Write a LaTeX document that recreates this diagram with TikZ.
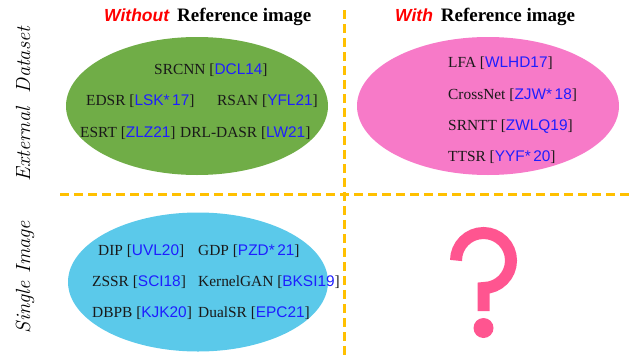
\documentclass[tikz,border=0pt]{standalone}
\usepackage{fontspec}
\newfontfamily\tnr{Liberation Serif}
\newfontfamily\arialf{Liberation Sans}
\usetikzlibrary{shapes.geometric}
\definecolor{dgreen}{HTML}{70AD47}
\definecolor{dpink}{HTML}{F77AC8}
\definecolor{dblue}{HTML}{5BC9EA}
\definecolor{dorange}{HTML}{FFC000}
\definecolor{qpink}{HTML}{FF5590}
\definecolor{citeblue}{HTML}{1E1EFF}
\newcommand\rf[1]{[{\arialf\color{citeblue}#1}]}
\tikzset{
  entry/.style={anchor=west, inner sep=0pt, text=black!90, font=\tnr\fontsize{15.4}{18}\selectfont},
  blob/.style={ellipse, draw=none, minimum width=262pt, minimum height=138pt, inner sep=0pt},
  divider/.style={draw=dorange, line width=3pt, dash pattern=on 9pt off 5pt},
  side/.style={rotate=90, inner sep=0pt, font=\itshape\fontsize{20.5}{22}\selectfont},
  title/.style={anchor=west, inner sep=0pt}
}
\begin{document}
\begin{tikzpicture}[x=1pt,y=-1pt]
\useasboundingbox (0,0) rectangle (631,356);
% dividers
\coordinate (vtop) at (344,10);
\coordinate (vbot) at (344,356);
\coordinate (hleft) at (60,194);
\coordinate (hright) at (631,194);
\draw[divider] (vtop) -- (vbot);
\draw[divider] (hleft) -- (hright);
% ellipses
\node[blob, fill=dgreen] (eg) at (197,106) {};
\node[blob, fill=dpink] (ep) at (488,106) {};
\node[blob, fill=dblue, minimum width=260pt, minimum height=139pt] (eb) at (198,282) {};
% titles
\node[title] (t1) at (104,17) {{\arialf\bfseries\itshape\color{red}\fontsize{17.5}{20}\selectfont Without}\hspace{8pt}{\tnr\bfseries\fontsize{19}{20}\selectfont Reference image}};
\node[title] (t2) at (395,17) {{\arialf\bfseries\itshape\color{red}\fontsize{17.5}{20}\selectfont With}\hspace{8pt}{\tnr\bfseries\fontsize{19}{20}\selectfont Reference image}};
% side labels
\node[side] (ext) at (23,104) {External\ \ Dataset};
\node[side] (sgl) at (25,277) {Single\ Image};
% green entries
\node[entry] (srcnn) at (154,70) {SRCNN \rf{DCL14}};
\node[entry] (edsr) at (86,101) {EDSR \rf{LSK*\,17}};
\node[entry] (rsan) at (217,101) {RSAN \rf{YFL21}};
\node[entry] (esrt) at (80,133) {ESRT \rf{ZLZ21}};
\node[entry] (drl) at (180,133) {DRL-DASR \rf{LW21}};
% pink entries
\node[entry] (lfa) at (448,63) {LFA \rf{WLHD17}};
\node[entry] (cross) at (448,95) {CrossNet \rf{ZJW*\,18}};
\node[entry] (srntt) at (448,127) {SRNTT \rf{ZWLQ19}};
\node[entry] (ttsr) at (448,157) {TTSR \rf{YYF*\,20}};
% blue entries
\node[entry] (dip) at (98,251) {DIP \rf{UVL20}};
\node[entry] (gdp) at (198,251) {GDP \rf{PZD*\,21}};
\node[entry] (zssr) at (92,282) {ZSSR \rf{SCI18}};
\node[entry] (kgan) at (198,282) {KernelGAN \rf{BKSI19}};
\node[entry] (dbpb) at (92,313) {DBPB \rf{KJK20}};
\node[entry] (dual) at (198,313) {DualSR \rf{EPC21}};
% question mark
\draw[qpink, line width=12pt] (456,260.5) arc[start angle=180, end angle=450, radius=27.5] -- (483.5,311);
\fill[qpink] (483.5,328) circle (10);
\end{tikzpicture}
\end{document}
